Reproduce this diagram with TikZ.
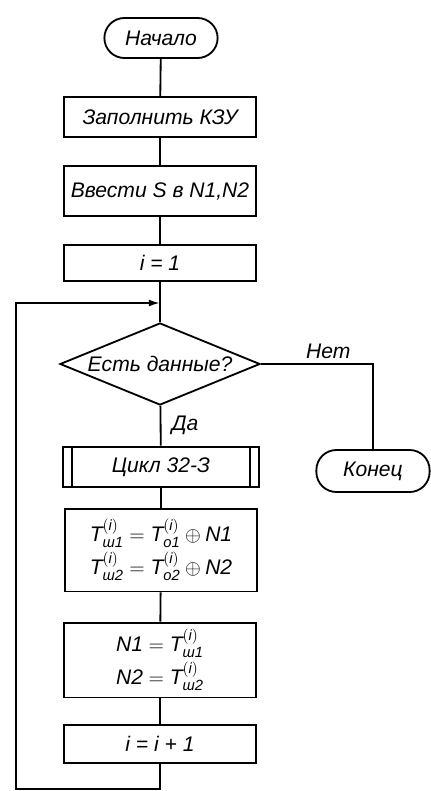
\documentclass[tikz,border=0pt]{standalone}
\usepackage{fontspec}
\usepackage{amsmath}
\setmainfont{Liberation Sans}
\usetikzlibrary{shapes.geometric,arrows.meta}
\begin{document}
\begin{tikzpicture}[x=0.025cm, y=-0.025cm, line width=1.3pt,
    font=\fontsize{15}{18}\selectfont\itshape,
    proc/.style={draw, rectangle, minimum width=4.8cm, align=center, inner sep=2pt},
    term/.style={draw, rectangle, rounded corners=0.5cm, minimum width=2.83cm, minimum height=1cm},
    cond/.style={draw, diamond, aspect=2.44, inner sep=0pt, minimum width=5cm, minimum height=2.05cm}]
    \useasboundingbox (0,0) rectangle (431,791);

    % 开始
    \node[term] (start) at (161,38) {Начало};

    % 准备
    \node[proc, minimum height=1cm] (fill) at (160,117) {Заполнить КЗУ};
    \node[proc, minimum height=1.25cm] (input) at (160,191) {Ввести S в N1,N2};
    \node[proc, minimum height=0.92cm] (init) at (160,263) {i = 1};

    % 判断
    \node[cond] (decide) at (160,364) {Есть данные?};

    % 结束
    \node[term, minimum height=1.05cm] (end) at (373,471) {Конец};

    % 循环体
    \node[proc, minimum width=4.9cm, minimum height=1.02cm] (cycle) at (161,467) {Цикл 32-З};
    \draw ([xshift=0.25cm]cycle.north west) -- ([xshift=0.25cm]cycle.south west);
    \draw ([xshift=-0.25cm]cycle.north east) -- ([xshift=-0.25cm]cycle.south east);
    \node[proc, minimum height=2.07cm] (xor) at (161,550)
        {$\text{T}^{(\text{i})}_{\text{ш1}}=\text{T}^{(\text{i})}_{\text{о1}}\oplus\text{N1}$\\[2pt]
         $\text{T}^{(\text{i})}_{\text{ш2}}=\text{T}^{(\text{i})}_{\text{о2}}\oplus\text{N2}$};
    \node[proc, minimum height=1.87cm] (upd) at (160,660)
        {$\text{N1}=\text{T}^{(\text{i})}_{\text{ш1}}$\\[2pt]
         $\text{N2}=\text{T}^{(\text{i})}_{\text{ш2}}$};
    \node[proc, minimum height=0.95cm] (inc) at (160,744) {i = i + 1};

    % 回路
    \coordinate (bot) at (160,789);
    \coordinate (lft) at (16,789);
    \coordinate (top) at (16,303);
    \coordinate (join) at (160,303);

    % 连线
    \draw (start) -- (fill);
    \draw (fill) -- (input);
    \draw (input) -- (init);
    \draw (init) -- (decide);
    \draw (decide) -- node[right, xshift=4pt] {Да} (cycle);
    \draw (decide.east) -| node[pos=0.3, above] {Нет} (end);
    \draw (cycle) -- (xor);
    \draw (xor) -- (upd);
    \draw (upd) -- (inc);
    \draw[-{Latex[length=8pt,width=5pt]}] (inc) -- (bot) -- (lft) -- (top) -- (join);

\end{tikzpicture}
\end{document}
